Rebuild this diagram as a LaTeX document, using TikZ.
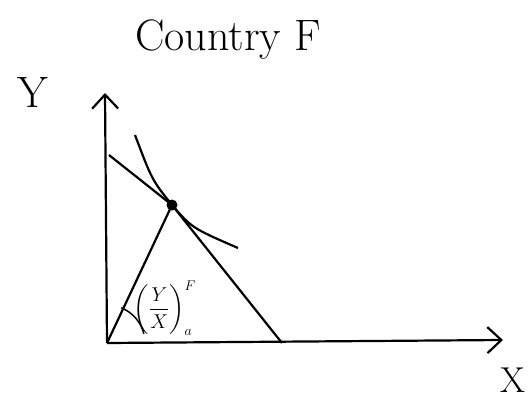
\documentclass[tikz,border=0pt]{standalone}
\usepackage{fix-cm}
\usepackage{amsmath}
\usetikzlibrary{arrows.meta,positioning}
\begin{document}
\begin{tikzpicture}[x=1pt,y=-1pt,
	axis/.style={line width=2.2pt,-{Straight Barb[length=14pt,width=26pt,line width=2.2pt]}},
	curve/.style={line width=2.2pt},
	big/.style={font=\fontsize{44}{44}\selectfont}
	]
	\useasboundingbox (0,0) rectangle (531,400);
	\coordinate (O) at (107,343);
	\coordinate (ytop) at (105,93);
	\coordinate (xend) at (503,340);
	\coordinate (by) at (109,155);
	\coordinate (bx) at (282,343);
	\coordinate (ia) at (135,135);
	\coordinate (ib) at (238,248);
	\node[circle,fill,inner sep=0pt,minimum size=11pt] (pt) at (172,205) {};
	\node[big] (title) at (228,40) {Country F};
	\node[big] (ylab) at (33,92) {Y};
	\node[font=\fontsize{36}{36}\selectfont] (xlab) at (513,380) {X};
	\node[font=\fontsize{20}{20}\selectfont] (ratio) at (165,308) {$\displaystyle\left(\frac{Y}{X}\right)^{F}_{a}$};
	\draw[axis] (O) -- (ytop);
	\draw[axis] (O) -- (xend);
	\draw[curve] (by) -- (pt.center) -- (bx);
	\draw[curve] (O) -- (pt.center);
	\draw[curve] (ia) .. controls (152,180) .. (pt.center) .. controls (192,228) .. (ib);
	\draw[line width=1.5pt] (O) ++(-68:38) arc[start angle=-68,end angle=-14,radius=38];
\end{tikzpicture}
\end{document}
